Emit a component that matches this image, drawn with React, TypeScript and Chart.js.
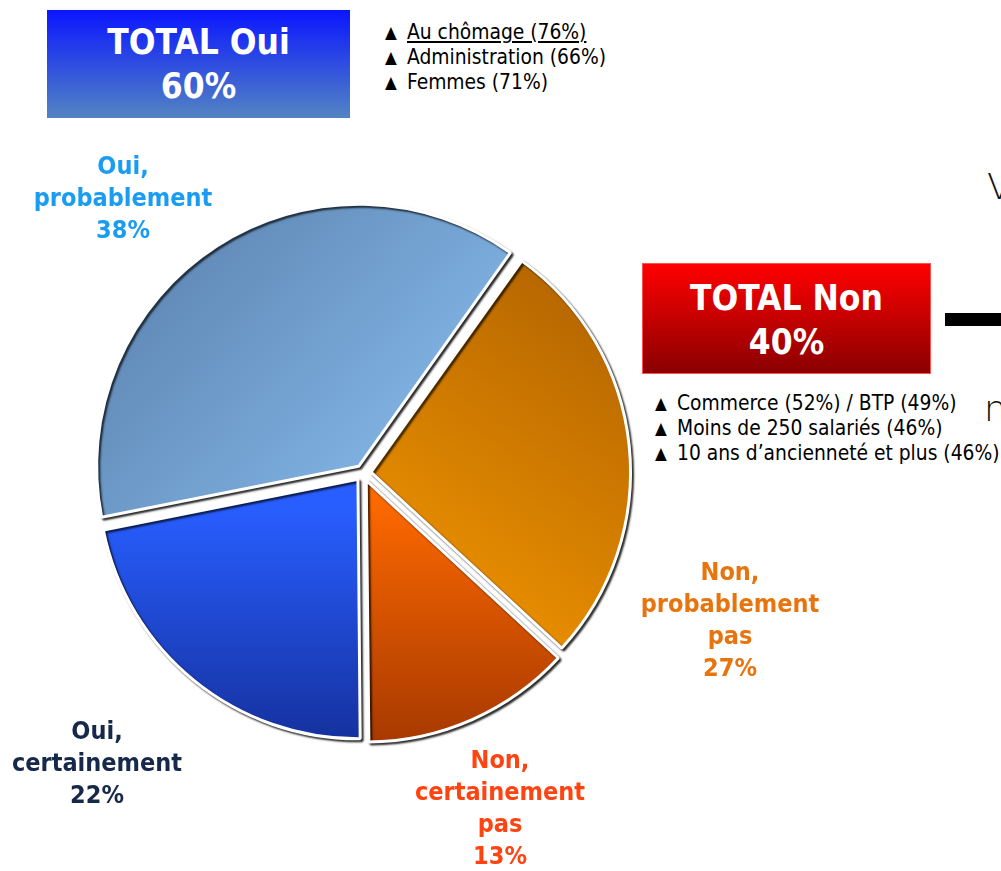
import React, { useEffect, useRef } from "react";
import { Chart, registerables } from "chart.js";

Chart.register(...registerables);

// ---- data ----
const categories = ["Oui, probablement", "Non, probablement pas", "Non, certainement pas", "Oui, certainement"];
const values = [38, 27, 13, 22];
const totalLabels = ["TOTAL Oui", "TOTAL Non"];
const totalValues = [60, 40];
const ouiDetails = ["Au chômage (76%)", "Administration (66%)", "Femmes (71%)"];
const nonDetails = ["Commerce (52%) / BTP (49%)", "Moins de 250 salariés (46%)", "10 ans d’ancienneté et plus (46%)"];

// ---- styles ----
const labelColors = ["#1a9cf2", "#e8740e", "#ff4412", "#17294a"];
const gradStops = [
  { from: [-0.75, -0.75], to: [0.3, 0.2], c0: "#5f87b4", c1: "#88bdee" },
  { from: [0.85, -0.6], to: [0.05, 0.55], c0: "#b56600", c1: "#f39600" },
  { from: [0, 0.05], to: [0, 1], c0: "#ff6a00", c1: "#a23600" },
  { from: [0, 0.1], to: [0, 1], c0: "#285eff", c1: "#142e98" },
];
const labelPos = [
  { x: 123, y: 150 },
  { x: 730, y: 556 },
  { x: 500, y: 744 },
  { x: 97, y: 715 },
];
const FONT = "'DejaVu Sans', sans-serif";

const shadowPlugin = {
  id: "shadow",
  beforeDatasetDraw(chart: any) {
    const c = chart.ctx;
    c.save();
    c.shadowColor = "rgba(0,0,0,0.75)";
    c.shadowBlur = 2;
    c.shadowOffsetX = 2;
    c.shadowOffsetY = 2;
  },
  afterDatasetDraw(chart: any) {
    chart.ctx.restore();
  },
};

function PieChart() {
  const ref = useRef<HTMLCanvasElement>(null);
  useEffect(() => {
    if (!ref.current) return;
    const chart = new Chart(ref.current, {
      type: "pie",
      data: {
        labels: categories,
        datasets: [
          {
            data: values,
            backgroundColor: (ctx: any) => {
              const i = ctx.dataIndex;
              const g = gradStops[i];
              const a = ctx.chart.chartArea;
              if (!a) return g.c1;
              const cx = (a.left + a.right) / 2;
              const cy = (a.top + a.bottom) / 2;
              const r = Math.min(a.right - a.left, a.bottom - a.top) / 2;
              const gr = ctx.chart.ctx.createLinearGradient(
                cx + g.from[0] * r,
                cy + g.from[1] * r,
                cx + g.to[0] * r,
                cy + g.to[1] * r
              );
              gr.addColorStop(0, g.c0);
              gr.addColorStop(1, g.c1);
              return gr;
            },
            borderColor: "#ffffff",
            borderWidth: 3,
            offset: 32,
          },
        ],
      },
      options: {
        animation: false,
        responsive: false,
        rotation: -101.3,
        layout: { padding: 0 },
        plugins: { legend: { display: false }, tooltip: { enabled: false } },
      },
      plugins: [shadowPlugin],
    });
    return () => chart.destroy();
  }, []);
  return <canvas ref={ref} width={554} height={554} style={{ position: "absolute", left: 86, top: 196 }} />;
}

export default function App() {
  const boxText: React.CSSProperties = {
    color: "#fff",
    fontFamily: FONT,
    fontStretch: "condensed",
    fontWeight: "bold",
    fontSize: 35,
    lineHeight: "44px",
    textAlign: "center",
  };
  const bullet: React.CSSProperties = {
    fontFamily: FONT,
    fontStretch: "condensed",
    fontSize: 20.8,
    lineHeight: "25px",
    color: "#000",
    whiteSpace: "nowrap",
  };
  const tri: React.CSSProperties = { fontSize: 17, display: "inline-block", width: 22, verticalAlign: 1 };
  return (
    <div style={{ position: "fixed", left: 0, top: 0, width: 1001, height: 871, overflow: "hidden", background: "#fff" }}>
      <PieChart />
      {/* TOTAL Oui */}
      <div
        style={{
          position: "absolute",
          left: 47,
          top: 10,
          width: 303,
          height: 108,
          background: "linear-gradient(#0a16ff, #5384c2)",
          boxSizing: "border-box",
          paddingTop: 10,
          ...boxText,
        }}
      >
        <div>{totalLabels[0]}</div>
        <div>{totalValues[0]}%</div>
      </div>
      <div style={{ position: "absolute", left: 385, top: 20, ...bullet }}>
        {ouiDetails.map((t, i) => (
          <div key={i}>
            <span style={tri}>▲</span>
            <span style={{ textDecoration: i === 0 ? "underline" : "none" }}>{t}</span>
          </div>
        ))}
      </div>
      {/* TOTAL Non */}
      <div
        style={{
          position: "absolute",
          left: 642,
          top: 263,
          width: 289,
          height: 111,
          background: "linear-gradient(#ff0000, #8a0000)",
          border: "1px solid #ff5050",
          boxSizing: "border-box",
          paddingTop: 12,
          ...boxText,
        }}
      >
        <div>{totalLabels[1]}</div>
        <div>{totalValues[1]}%</div>
      </div>
      <div style={{ position: "absolute", left: 945, top: 313, width: 70, height: 13, background: "#000" }} />
      <div style={{ position: "absolute", left: 987, top: 166, fontFamily: FONT, fontSize: 36, fontWeight: 300, color: "#111" }}>V</div>
      <div style={{ position: "absolute", left: 984, top: 388, fontFamily: FONT, fontSize: 36, fontWeight: 300, color: "#111" }}>n</div>
      <div style={{ position: "absolute", left: 655, top: 391, ...bullet }}>
        {nonDetails.map((t, i) => (
          <div key={i}>
            <span style={tri}>▲</span>
            <span>{t}</span>
          </div>
        ))}
      </div>
      {/* slice labels */}
      {categories.map((c, i) => {
        const lines = [...c.split(" "), `${values[i]}%`];
        return (
          <div
            key={i}
            style={{
              position: "absolute",
              left: labelPos[i].x - 150,
              top: labelPos[i].y,
              width: 300,
              textAlign: "center",
              color: labelColors[i],
              fontFamily: FONT,
              fontStretch: "condensed",
              fontWeight: "bold",
              fontSize: 25,
              lineHeight: "32px",
            }}
          >
            {lines.map((l, j) => (
              <div key={j}>{l}</div>
            ))}
          </div>
        );
      })}
    </div>
  );
}
